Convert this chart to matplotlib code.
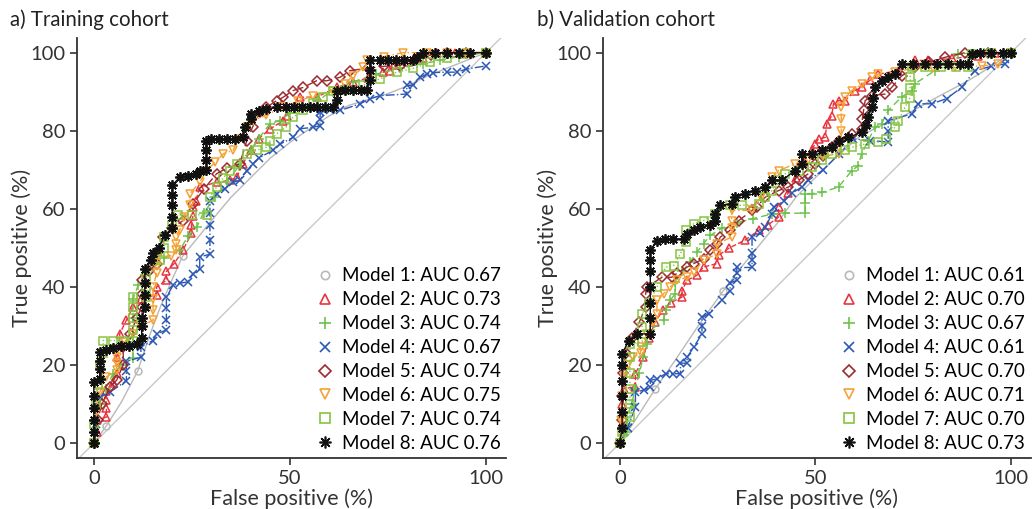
import numpy as np
import matplotlib
matplotlib.use("Agg")
import matplotlib.pyplot as plt
from matplotlib.lines import Line2D

plt.rcParams['font.family'] = ['Lato', 'DejaVu Sans']
plt.rcParams['font.size'] = 14

# model names and AUCs
models = ["Model 1", "Model 2", "Model 3", "Model 4", "Model 5", "Model 6", "Model 7", "Model 8"]
auc_train = [0.67, 0.73, 0.74, 0.67, 0.74, 0.75, 0.74, 0.76]
auc_valid = [0.61, 0.70, 0.67, 0.61, 0.70, 0.71, 0.70, 0.73]

# ---- training cohort, (false positive %, true positive %) ----
train_m1 = [(0, 0), (3.1, 4.3), (7, 10.5), (11.2, 18.5), (14, 27), (17, 35), (20, 42), (22.7, 48),
            (26, 52), (30, 57), (35, 63), (40, 68), (45, 73), (50, 77), (55, 80.5), (60, 83.8),
            (65, 86.5), (70, 88), (75, 89.5), (80, 91.5), (85, 94), (90, 96), (95, 98), (100, 100)]
train_m1_marks = [1, 3, 7]
train_m2 = [(0, 0), (0.7, 3), (0.7, 5.9), (3.2, 6.7), (3.2, 9), (3.2, 11), (3.2, 13.5), (4.9, 15.3),
            (5.8, 18), (5.8, 22), (6.6, 25), (6.6, 28), (8.3, 31.5), (10, 35), (12, 37), (16, 38),
            (16, 40), (18.5, 41.7), (18.5, 44), (20.5, 46), (22.7, 49.4), (24.9, 53.7), (24.9, 56),
            (25.3, 58.3), (25.3, 60.4), (26, 62), (27, 65.6), (31.3, 66.8), (34.7, 67.3), (36.4, 68.1),
            (38, 71.5), (40, 75), (42, 78), (45, 80.5), (48.3, 82.6), (49.2, 83.9), (52.5, 88.6),
            (56.8, 88.6), (61.9, 91.1), (66, 92.5), (70, 93.5), (73.8, 95), (75.5, 95.4), (76.5, 96.8),
            (80, 97.5), (84, 98.5), (87.4, 100), (92, 100), (96, 100), (100, 100)]
train_m3 = [(0, 0), (0.5, 5), (1.5, 10), (3, 14), (4.9, 17.8), (7, 20), (10, 21.7), (10, 26), (10, 32),
            (10, 37), (11.3, 40.4), (13, 43), (15, 46), (18, 47.5), (21.9, 49.4), (24, 53), (26.2, 55.3),
            (28, 59), (31, 63), (34, 67), (37, 71), (40, 75), (42, 78), (44.9, 81.8), (47.4, 82.6),
            (50, 84.5), (53, 86), (57, 88), (61, 90), (66, 92.5), (72, 94.5), (78, 96), (84, 97.2),
            (88.3, 98), (93, 99), (100, 100)]
train_m4 = [(0, 0), (0.5, 5), (1.5, 11.8), (4, 13), (8.3, 16), (8.3, 18.5), (8.3, 21), (12, 22),
            (12, 24.6), (15.1, 26.3), (16, 28), (18.5, 29), (18.5, 31.5), (18.5, 34.5), (18.5, 37.4),
            (20.2, 40.4), (22, 41), (24, 41.3), (25.3, 43.4), (27, 44.5), (27, 47.7), (29.6, 48.4),
            (29.6, 52), (29.6, 56), (29.6, 59), (29.6, 62.1), (31.3, 63.9), (33.4, 65.2), (35.5, 66.8),
            (37.2, 67.3), (39, 69.8), (40.6, 71.6), (42, 73), (45.7, 75), (47.5, 76.6), (50.8, 78.3),
            (52.6, 80.5), (55.9, 80.9), (57.7, 81.3), (57.7, 83), (57.7, 84.7), (60.2, 85.2), (62.8, 85.2),
            (67.9, 86.9), (70.4, 88.2), (73, 89), (79.8, 89.4), (79.8, 91.6), (81.5, 91.6), (83.2, 93.7),
            (84.9, 94.5), (86.6, 94.9), (90, 95), (92.5, 95), (95, 95.8), (100, 96.6)]
train_m5 = [(0, 0), (1, 6), (2, 10), (4.1, 14.4), (5.8, 16.1), (7.5, 20), (7.5, 24.6), (9.2, 28),
            (11, 32), (12.2, 35), (12.2, 38.3), (12.2, 41.7), (14, 44), (16, 46), (16, 48.6), (17.7, 52.8),
            (20, 55), (22.7, 57), (25.3, 61.3), (28, 65), (31.3, 69), (34, 70.5), (37.2, 71.5), (39, 77.5),
            (40.5, 81), (42.3, 84.7), (44, 86), (46.6, 87.7), (48.3, 88.6), (50.8, 90.3), (53.4, 91.1),
            (56.8, 92.8), (59.4, 92.8), (62.8, 93.7), (65.3, 95.4), (70, 96), (74, 96.5), (78, 96.7),
            (82, 98), (86, 99.5), (90, 100), (95, 100), (100, 100)]
train_m6 = [(0, 0), (0.5, 8), (1.5, 13), (3.2, 17), (5.8, 18.7), (5.8, 20.5), (5.8, 22), (5.8, 23.8),
            (8, 26), (10, 28), (12, 30), (15.1, 31.5), (15.1, 34), (15.1, 37), (15.1, 40), (16, 43.5),
            (16, 45.5), (16, 47.6), (19.8, 48), (21, 49.4), (21, 51), (21, 52.7), (21.9, 54.5), (23, 58),
            (24.5, 61), (24.5, 63.9), (27, 66.8), (28.7, 69.8), (31, 72), (33, 74.1), (35.5, 75), (37, 78),
            (39, 80.9), (40.6, 82.6), (44, 84), (48, 86), (52, 87.5), (56, 89), (61, 90.3), (64, 92),
            (66, 94), (68.7, 96.2), (69.6, 98), (74, 99), (78.9, 100), (85, 100), (90, 100), (95, 100),
            (100, 100)]
train_m7 = [(0, 0), (0, 5), (0.5, 10), (1, 15), (1.5, 20), (2.4, 23), (2.4, 26.3), (5, 26.3), (7.5, 26.3),
            (10, 26.3), (10, 29), (10, 32), (10, 35), (10, 37.4), (13.4, 37.4), (13.4, 40), (13.4, 42.5),
            (16.8, 46.8), (18, 50), (18, 52.8), (20, 56), (21.5, 58.5), (25, 58.5), (28.8, 58.5), (29.6, 63),
            (31.3, 65.6), (33, 68), (34.7, 69.8), (36.4, 71.5), (39, 74), (41.5, 75), (44, 75.8), (45, 77.5),
            (46.6, 79.2), (49, 80.9), (50.8, 83.5), (53.4, 85.2), (56, 87), (58.5, 88.6), (61, 90.3),
            (64, 90.5), (68.7, 91.6), (73, 93.3), (77.2, 95), (81.5, 96), (85.7, 97.5), (90, 98.5),
            (94, 99.7), (100, 100)]
train_m8 = [(0, 0), (0, 3), (0, 6), (0, 9), (0, 12), (0, 15.7), (1.5, 16.5), (1.5, 19), (1.5, 21),
            (1.5, 23.3), (3, 24), (5, 24.5), (7, 25), (9, 25), (11, 25.5), (12.2, 27), (12.2, 30),
            (12.2, 32), (13, 35), (13, 38), (13, 41), (13, 44.7), (14.5, 47), (15, 48.6), (16.5, 50),
            (18.1, 53.2), (20, 55), (20, 58), (20, 61), (20, 63.5), (20, 66), (21.9, 68.1), (24, 68.5),
            (26, 69), (27, 69.8), (28.7, 70), (28.7, 72.5), (28.7, 75), (28.7, 77.5), (30, 78), (32, 78),
            (34, 78), (36, 78), (38, 78.5), (38.5, 81), (40, 83), (40, 84.4), (42, 85), (44, 85.5),
            (46.7, 86), (49, 86), (51, 86), (53, 86), (55, 86), (57, 86), (59, 86), (61, 86), (62, 88),
            (62, 90.3), (64, 90.5), (66, 90.5), (68, 90.5), (69.6, 90.5), (70.4, 93), (70.4, 95.5),
            (70.4, 98), (73, 98), (75, 98), (77, 98), (79, 98), (81.5, 98), (82.5, 99), (84, 100),
            (87, 100), (90, 100), (93, 100), (96, 100), (100, 100)]

# ---- validation cohort ----
valid_m1 = [(0, 0), (4, 6), (9.1, 14), (14, 21), (20, 30), (26.5, 39.1), (31, 45), (35.9, 51), (40, 56),
            (45, 63), (50, 68), (55, 73), (61, 78.3), (66, 81), (72, 83.5), (80, 88), (89, 92.8),
            (95, 96.5), (100, 100)]
valid_m1_marks = [2, 5]
valid_m2 = [(0, 0), (0.5, 5), (0.5, 10), (1, 14), (4, 14.4), (4, 17.8), (6, 22), (7.5, 27), (9, 31),
            (11, 34), (13, 36), (15.9, 37.4), (15.9, 39.1), (17.2, 41.7), (19.7, 43), (21.4, 45.1),
            (24.8, 46), (25.3, 48.2), (28, 50), (32, 52), (35.5, 54.5), (38, 56), (40.6, 57.9), (40.6, 60.4),
            (43, 64), (45, 68), (47, 72), (49, 75), (49.9, 76.6), (50.8, 77.9), (52.5, 78.3), (52.9, 81.8),
            (54.2, 83.9), (54.6, 86.9), (55.9, 87.7), (57.6, 87.7), (60.1, 90.3), (61.8, 91.1), (64, 93),
            (66.1, 94.5), (71.2, 95.4), (75.4, 98), (78.8, 98), (85, 98.5), (91.6, 99.2), (96, 100),
            (100, 100)]
valid_m3 = [(0, 0), (1, 2), (1.8, 3), (1.8, 5), (1.8, 6.7), (3, 10), (4, 14), (5, 18), (6, 22), (7, 25.5),
            (7.8, 28.9), (11.2, 31.5), (11.7, 34), (12.9, 36.6), (14.2, 38.3), (14.2, 41.3), (16, 44),
            (18, 46.5), (19.7, 48.9), (21.4, 51.1), (23.1, 53.2), (26, 55), (30, 56.5), (34, 57.5),
            (38.9, 58.7), (42.3, 58.9), (47.4, 58.9), (47.4, 61.5), (47.4, 63.9), (49, 63.9), (51.6, 64.2),
            (55.9, 65.6), (59.3, 69.8), (61, 71.1), (61.8, 74.1), (63.5, 77.5), (65.2, 80.9), (66.9, 81.8),
            (68.6, 85.2), (72, 88.6), (74.6, 90.3), (75.4, 92), (80.5, 95.4), (86.5, 99.7), (93, 100),
            (100, 100)]
valid_m4 = [(0, 0), (2, 4), (4, 9.3), (4, 13.1), (6.1, 13.6), (7.8, 14.3), (7.8, 16.1), (9.5, 16.5),
            (11.7, 17.8), (13.5, 17.8), (15.5, 17.8), (15.5, 20.5), (17.2, 20.5), (17.2, 22), (18.9, 24.6),
            (21, 28), (21, 30), (21, 32.2), (22.7, 33.2), (26.1, 36.6), (28.2, 39.1), (28.2, 41), (29.9, 41.7),
            (29.9, 43.5), (29.9, 45), (33.8, 45), (33.8, 47), (33.8, 48.6), (33.8, 52.8), (35.9, 53.7),
            (37.2, 55.3), (38.9, 58.7), (39.3, 60.4), (42, 62), (44, 64), (46.5, 65.6), (48.2, 67.3),
            (52, 70), (56, 74), (59.7, 77.9), (64, 77.5), (68.6, 77.1), (68.6, 80), (68.6, 82.6),
            (74.6, 84.3), (76.3, 86.9), (79.7, 86.9), (83.5, 88.2), (87.4, 91.1), (90.7, 95.4), (95, 96.5),
            (98.4, 97.1), (98.4, 98.4), (100, 100)]
valid_m5 = [(0, 0), (0.5, 6), (0.5, 12), (0.8, 18), (1.5, 23), (3, 27), (5, 31), (6.6, 35), (6.6, 38.3),
            (7, 40), (10.8, 42.5), (13.3, 42.5), (14.6, 43.5), (17.2, 45.1), (18.9, 46), (21.4, 47.2),
            (23.1, 49.4), (24.8, 51.1), (25.7, 52.8), (28.2, 54.5), (30.4, 57), (33.8, 59.6), (35, 60.5),
            (37.2, 63), (40.6, 64.7), (43.1, 65.6), (45.7, 67.3), (48.2, 69), (49.9, 71.5), (52, 73.5),
            (54.2, 75.8), (55.9, 77.5), (59.3, 79.2), (62, 80.5), (62, 83), (62.3, 85.2), (62.7, 87.7),
            (64.4, 89), (67.8, 89.4), (69.5, 91.1), (72, 94), (75.4, 96.2), (79, 97.5), (83.1, 98.8),
            (88.2, 100), (94, 100), (100, 100)]
valid_m6 = [(0, 0), (0.3, 6), (0.5, 12), (1, 17), (2, 20), (3.5, 22), (5.3, 23), (5.3, 24.6), (7, 28),
            (8.5, 31), (9.5, 33.2), (9.5, 36.6), (11.2, 38.3), (12.9, 40), (14.6, 41.7), (17.2, 42.5),
            (18.9, 43.8), (21.4, 46.8), (24.8, 48.5), (24.8, 51), (28.6, 52.8), (28.6, 55), (28.6, 57),
            (28.6, 59.6), (33.8, 59.6), (36, 63), (38.9, 68.1), (40.6, 69.8), (44.8, 71.5), (48, 72.5),
            (52, 73.5), (55.9, 74.1), (56.6, 77), (56.6, 80), (56.6, 83), (56.6, 86), (57.6, 88.6),
            (59.3, 90.3), (62, 92), (64.4, 93.7), (66, 94.5), (70.3, 95), (75, 96), (80, 96), (85.6, 96.2),
            (92.5, 96.6), (96.7, 97), (100, 100)]
valid_m7 = [(0, 0), (0.5, 3), (2.6, 6.7), (2.6, 10), (2.6, 14), (2.6, 18), (2.6, 22), (2.6, 25.5),
            (5.7, 26), (5.7, 29.7), (5.7, 33.2), (7.5, 36), (9.5, 40), (11.7, 45.1), (13.8, 45.5),
            (15.5, 48.5), (16.8, 51.5), (16.8, 54.5), (18.9, 56.2), (21.4, 57), (24.4, 58.7), (28.2, 60.9),
            (31.2, 60.9), (35.5, 61.3), (37.2, 63), (38.9, 64.7), (40.6, 67.3), (42.3, 69), (45.7, 69.8),
            (49, 70.7), (51.6, 72.4), (54.2, 74.1), (57.6, 75), (59.3, 75.8), (62.7, 76.6), (66.1, 77.1),
            (68, 78), (70.3, 80.9), (71.2, 82.6), (72.9, 86), (74.2, 88.5), (74.2, 91), (74.2, 93.7),
            (74.6, 96.2), (78, 96.2), (82, 96.2), (86, 96.2), (89, 96.2), (89.9, 99.7), (95, 100), (100, 100)]
valid_m8 = [(0, 0), (0.6, 4), (0.6, 8), (0.6, 12), (0.6, 16), (0.6, 20), (0.6, 22.9), (2.3, 26.3),
            (4.4, 28), (7.8, 28), (7.8, 32), (7.8, 36), (7.8, 40), (7.8, 44), (7.8, 47), (7.8, 49.4),
            (9.5, 51.9), (11.5, 52.3), (13.5, 52.3), (16.3, 52.3), (17.2, 53.6), (18.9, 54.5), (20.6, 55.3),
            (23.1, 55.8), (24.4, 57), (24.4, 58.7), (25.7, 60.9), (28.6, 61.3), (29.5, 63), (32, 63.9),
            (34.6, 64.7), (37.2, 65.6), (38.9, 67.3), (41.4, 67.3), (44.8, 69.8), (46.5, 71.5), (46.5, 74.1),
            (49, 74.1), (51.6, 75), (54.2, 75.8), (55.9, 77.5), (58.4, 78.3), (61.8, 79.6), (63, 81.5),
            (63.5, 83.5), (64.4, 86), (64.8, 88.5), (65.2, 91.1), (66.9, 92.8), (68.6, 93.7), (70.3, 94.5),
            (72, 97.1), (75, 97.1), (78, 97.1), (81, 97.1), (84, 97.1), (87, 97.1), (89, 97.1), (89.9, 99.7),
            (92, 100), (95, 100), (98, 100), (100, 100)]

train_curves = [train_m1, train_m2, train_m3, train_m4, train_m5, train_m6, train_m7, train_m8]
valid_curves = [valid_m1, valid_m2, valid_m3, valid_m4, valid_m5, valid_m6, valid_m7, valid_m8]

# style for each model (model 8 is an 8-spoke asterisk)
colors = ["#b9b9b9", "#e8343e", "#6cc24a", "#2b58b5", "#9c2a2e", "#f5a236", "#86c441", "#111111"]
markers = ["o", "^", "+", "x", "D", "v", "s", (8, 2, 0)]
msizes = [5, 6, 7, 6, 5, 6, 5.5, 7.5]
lstyles = ["-", "--", (0, (5, 3)), "-.", (0, (8, 3)), (0, (1, 2, 6, 2)), ":", "-"]


def draw_panel(ax, curves, aucs, marks):
    ax.axline((0, 0), (1, 1), color="#c8c8c8", lw=1, zorder=0)
    for i, pts in enumerate(curves):
        pts = np.array(pts)
        mk = marks if i == 0 else None
        ax.plot(pts[:, 0], pts[:, 1], color=colors[i], ls=lstyles[i], lw=1,
                marker=markers[i], ms=msizes[i], mfc="none", mec=colors[i],
                mew=1.3 if i == 7 else 1.1, markevery=mk)
    handles = [Line2D([], [], ls="none", marker=markers[i], ms=msizes[i] + 1, mfc="none",
                      mec=colors[i], mew=1.2) for i in range(8)]
    labels = [f"{m}: AUC {a:.2f}" for m, a in zip(models, aucs)]
    ax.legend(handles, labels, loc="lower right", bbox_to_anchor=(1.014, -0.012), frameon=False,
              fontsize=13.5, handlelength=0.8, handletextpad=0.5, labelspacing=0.37,
              borderaxespad=0.2)

    ax.set_xlim(-4.3, 105)
    ax.set_ylim(-3.8, 103.7)
    ax.set_xticks([0, 50, 100])
    ax.set_yticks([0, 20, 40, 60, 80, 100])
    for s in ["top", "right"]:
        ax.spines[s].set_visible(False)
    for s in ["left", "bottom"]:
        ax.spines[s].set_color("#333333")
        ax.spines[s].set_linewidth(1.3)
    ax.tick_params(colors="#333333", length=5, width=1.2, labelsize=14.5)
    ax.set_xlabel("False positive (%)", fontsize=15.5, labelpad=1, color="#333333")
    ax.set_ylabel("True positive (%)", fontsize=15.5, color="#333333")
    ax.yaxis.set_label_coords(-0.105, 0.5)


fig = plt.figure(figsize=(10.33, 5.09), dpi=100)
ax1 = fig.add_axes([0.0745, 0.100, 0.415, 0.825])
ax2 = fig.add_axes([0.5837, 0.100, 0.414, 0.825])

draw_panel(ax1, train_curves, auc_train, train_m1_marks)
draw_panel(ax2, valid_curves, auc_valid, valid_m1_marks)

fig.text(10 / 1033, 1 - 20 / 509, "a) Training cohort", fontsize=14.8, va="center", color="#222222")
fig.text(537 / 1033, 1 - 20 / 509, "b) Validation cohort", fontsize=14.8, va="center", color="#222222")

fig.savefig("out.png", dpi=100)
